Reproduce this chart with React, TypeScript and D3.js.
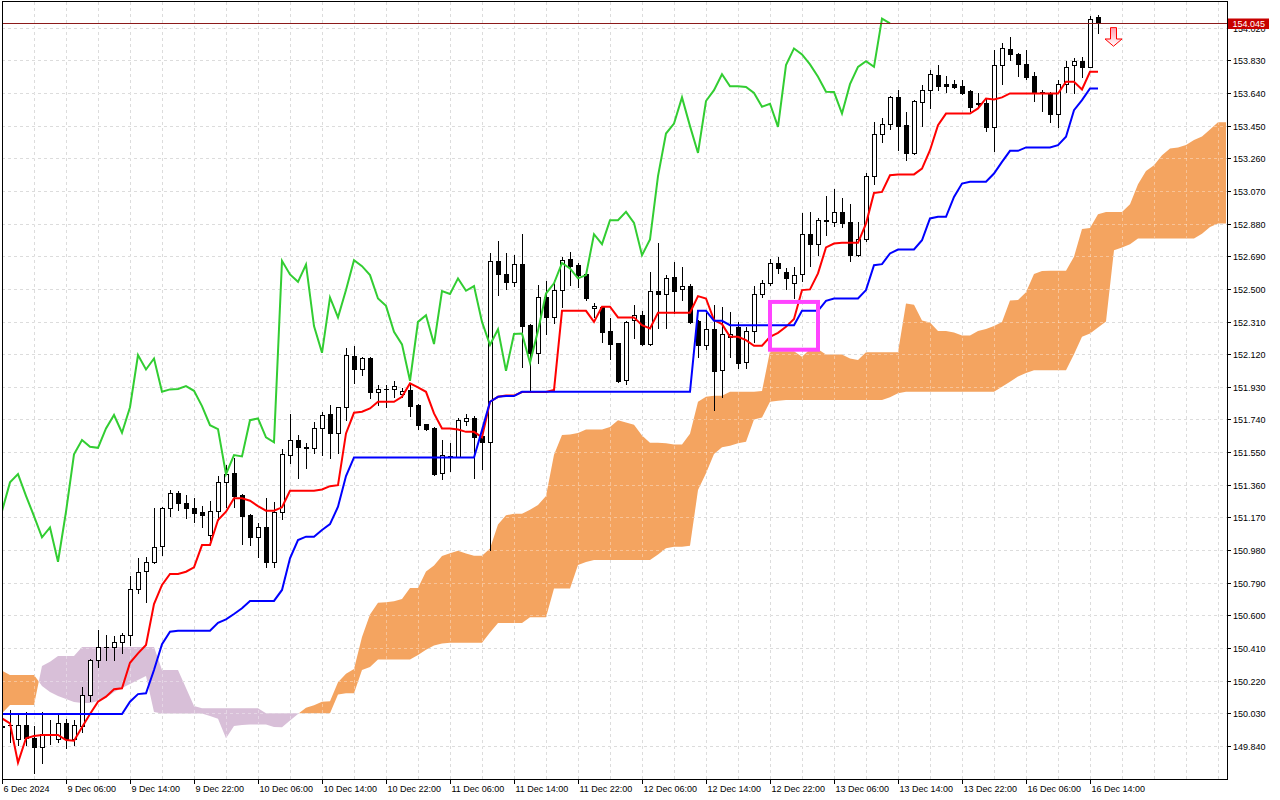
import { useEffect, useRef } from "react";
import * as d3 from "d3";

const WIDTH = 1280;
const HEIGHT = 800;

// H1 candles, 6 Dec 22:00 -> 16 Dec 15:00 (138 bars)
const opens = [
  149.950, 149.960, 149.879, 149.962, 149.885, 149.832, 149.904, 149.879, 149.972, 149.879,
  149.956, 150.137, 150.340, 150.414, 150.414, 150.447, 150.486, 150.752, 150.859, 150.912,
  151.005, 151.223, 151.310, 151.255, 151.223, 151.203, 151.067, 151.207, 151.374, 151.426,
  151.300, 151.184, 151.054, 151.112, 150.912, 151.203, 151.533, 151.620, 151.578, 151.572,
  151.688, 151.771, 151.663, 151.811, 152.109, 152.031, 152.095, 151.901, 151.915, 151.915,
  151.891, 151.911, 151.824, 151.713, 151.688, 151.426, 151.523, 151.523, 151.732, 151.746,
  151.643, 151.607, 152.661, 152.586, 152.541, 152.642, 152.289, 152.124, 152.450, 152.334,
  152.493, 152.671, 152.638, 152.584, 152.386, 152.396, 152.254, 152.183, 151.969, 152.318,
  152.347, 152.179, 152.487, 152.473, 152.567, 152.497, 152.518, 152.312, 152.175, 152.265,
  152.027, 152.221, 152.279, 152.072, 152.256, 152.473, 152.532, 152.651, 152.599, 152.537,
  152.586, 152.818, 152.760, 152.896, 152.890, 152.948, 152.890, 152.696, 152.788, 153.156,
  153.404, 153.462, 153.614, 153.453, 153.291, 153.588, 153.656, 153.743, 153.691, 153.691,
  153.679, 153.650, 153.579, 153.579, 153.443, 153.802, 153.893, 153.864, 153.806, 153.738,
  153.647, 153.640, 153.520, 153.691, 153.802, 153.825, 153.792, 154.081,
];
const highs = [
  149.975, 150.049, 150.020, 150.040, 149.956, 150.040, 149.991, 150.020, 149.995, 149.991,
  150.181, 150.345, 150.515, 150.486, 150.480, 150.496, 150.829, 150.932, 150.938, 151.223,
  151.232, 151.329, 151.325, 151.300, 151.281, 151.236, 151.265, 151.411, 151.475, 151.514,
  151.305, 151.190, 151.135, 151.281, 151.261, 151.566, 151.770, 151.649, 151.601, 151.727,
  151.785, 151.824, 151.815, 152.157, 152.167, 152.105, 152.105, 151.940, 151.940, 151.965,
  151.921, 151.950, 151.830, 151.716, 151.698, 151.620, 151.604, 151.746, 151.771, 151.761,
  151.698, 152.706, 152.778, 152.706, 152.696, 152.822, 152.295, 152.522, 152.547, 152.551,
  152.686, 152.715, 152.648, 152.590, 152.415, 152.400, 152.328, 152.186, 152.312, 152.405,
  152.372, 152.599, 152.764, 152.580, 152.657, 152.625, 152.528, 152.320, 152.357, 152.405,
  152.396, 152.366, 152.308, 152.279, 152.516, 152.551, 152.671, 152.683, 152.619, 152.628,
  152.942, 152.948, 152.915, 153.040, 153.079, 153.026, 152.993, 152.890, 153.175, 153.472,
  153.497, 153.620, 153.656, 153.530, 153.598, 153.685, 153.773, 153.802, 153.738, 153.714,
  153.718, 153.655, 153.640, 153.608, 153.889, 153.928, 153.963, 153.873, 153.889, 153.763,
  153.660, 153.646, 153.714, 153.827, 153.841, 153.850, 154.087, 154.093,
];
const lows = [
  149.930, 149.865, 149.846, 149.846, 149.681, 149.743, 149.852, 149.865, 149.827, 149.846,
  149.923, 150.104, 150.301, 150.340, 150.340, 150.379, 150.428, 150.728, 150.679, 150.906,
  150.951, 151.178, 151.213, 151.165, 151.145, 151.116, 151.038, 151.155, 151.232, 151.232,
  151.015, 151.009, 150.938, 150.880, 150.883, 151.162, 151.485, 151.397, 151.455, 151.543,
  151.533, 151.514, 151.543, 151.736, 151.953, 151.998, 151.863, 151.824, 151.814, 151.872,
  151.872, 151.760, 151.682, 151.680, 151.417, 151.393, 151.441, 151.519, 151.707, 151.402,
  151.450, 150.980, 152.464, 152.502, 152.516, 152.047, 151.901, 152.066, 152.237, 152.299,
  152.396, 152.522, 152.512, 152.434, 152.337, 152.192, 152.090, 151.959, 151.946, 152.212,
  152.173, 152.173, 152.270, 152.270, 152.361, 152.434, 152.300, 152.105, 152.150, 151.795,
  151.869, 152.105, 152.037, 152.037, 152.192, 152.454, 152.522, 152.593, 152.497, 152.444,
  152.547, 152.632, 152.696, 152.813, 152.865, 152.861, 152.663, 152.690, 152.780, 153.113,
  153.355, 153.433, 153.307, 153.249, 153.285, 153.447, 153.550, 153.656, 153.647, 153.671,
  153.633, 153.536, 153.550, 153.420, 153.303, 153.695, 153.831, 153.739, 153.724, 153.594,
  153.536, 153.472, 153.439, 153.647, 153.640, 153.734, 153.790, 153.986,
];
const closes = [
  149.956, 149.965, 149.962, 149.885, 149.832, 149.910, 149.906, 149.972, 149.879, 149.962,
  150.137, 150.340, 150.414, 150.418, 150.447, 150.486, 150.752, 150.854, 150.912, 150.999,
  151.223, 151.310, 151.252, 151.223, 151.197, 151.184, 151.207, 151.374, 151.422, 151.296,
  151.178, 151.054, 151.112, 150.912, 151.203, 151.537, 151.620, 151.581, 151.575, 151.688,
  151.766, 151.663, 151.811, 152.115, 152.031, 152.095, 151.901, 151.915, 151.917, 151.934,
  151.907, 151.818, 151.707, 151.684, 151.422, 151.533, 151.525, 151.736, 151.746, 151.636,
  151.607, 152.663, 152.584, 152.541, 152.642, 152.283, 152.128, 152.450, 152.334, 152.493,
  152.667, 152.632, 152.580, 152.444, 152.401, 152.250, 152.177, 151.965, 152.308, 152.347,
  152.179, 152.487, 152.470, 152.561, 152.489, 152.516, 152.308, 152.173, 152.265, 152.023,
  152.237, 152.240, 152.070, 152.256, 152.473, 152.532, 152.651, 152.619, 152.561, 152.580,
  152.818, 152.760, 152.900, 152.900, 152.948, 152.884, 152.696, 152.788, 153.156, 153.404,
  153.462, 153.614, 153.447, 153.291, 153.593, 153.656, 153.749, 153.679, 153.679, 153.675,
  153.640, 153.560, 153.577, 153.443, 153.802, 153.899, 153.864, 153.806, 153.734, 153.647,
  153.645, 153.520, 153.691, 153.792, 153.825, 153.792, 154.073, 154.045,
];

// Ichimoku lines
const tenkan = [
  150.001, 149.972, 149.743, 149.885, 149.898, 149.904, 149.904, 149.904, 149.875, 149.871,
  149.949, 150.026, 150.098, 150.127, 150.170, 150.176, 150.324, 150.379, 150.428, 150.666,
  150.777, 150.841, 150.841, 150.854, 150.880, 151.009, 151.009, 151.155, 151.203, 151.281,
  151.281, 151.267, 151.236, 151.209, 151.209, 151.229, 151.325, 151.325, 151.325, 151.325,
  151.333, 151.352, 151.358, 151.659, 151.779, 151.785, 151.804, 151.843, 151.843, 151.843,
  151.872, 151.950, 151.927, 151.901, 151.775, 151.688, 151.688, 151.682, 151.668, 151.668,
  151.636, 151.843, 151.872, 151.879, 151.879, 151.900, 151.900, 151.900, 151.900, 151.911,
  152.372, 152.372, 152.372, 152.372, 152.308, 152.396, 152.396, 152.334, 152.334, 152.334,
  152.289, 152.270, 152.361, 152.361, 152.361, 152.361, 152.361, 152.458, 152.444, 152.318,
  152.295, 152.221, 152.221, 152.202, 152.169, 152.169, 152.221, 152.244, 152.279, 152.325,
  152.493, 152.497, 152.590, 152.741, 152.764, 152.768, 152.768, 152.768, 152.880, 153.058,
  153.064, 153.161, 153.166, 153.166, 153.166, 153.200, 153.307, 153.453, 153.520, 153.520,
  153.520, 153.520, 153.550, 153.608, 153.602, 153.614, 153.637, 153.637, 153.637, 153.637,
  153.637, 153.637, 153.637, 153.705, 153.705, 153.660, 153.763, 153.763,
];
const kijun = [
  150.026, 150.026, 150.026, 150.026, 150.026, 150.026, 150.026, 150.026, 150.026, 150.026,
  150.026, 150.026, 150.026, 150.026, 150.026, 150.026, 150.098, 150.142, 150.147, 150.282,
  150.433, 150.505, 150.511, 150.511, 150.511, 150.511, 150.511, 150.557, 150.577, 150.608,
  150.641, 150.684, 150.684, 150.684, 150.684, 150.748, 150.932, 151.038, 151.058, 151.058,
  151.097, 151.131, 151.232, 151.411, 151.519, 151.519, 151.519, 151.519, 151.519, 151.519,
  151.519, 151.519, 151.519, 151.519, 151.519, 151.519, 151.519, 151.519, 151.519, 151.519,
  151.678, 151.843, 151.872, 151.876, 151.876, 151.901, 151.901, 151.901, 151.901, 151.901,
  151.901, 151.901, 151.901, 151.901, 151.901, 151.901, 151.901, 151.901, 151.901, 151.901,
  151.901, 151.901, 151.901, 151.901, 151.901, 151.901, 151.901, 152.372, 152.372, 152.314,
  152.314, 152.289, 152.289, 152.289, 152.289, 152.289, 152.289, 152.289, 152.289, 152.289,
  152.372, 152.372, 152.372, 152.430, 152.444, 152.444, 152.444, 152.444, 152.493, 152.638,
  152.644, 152.706, 152.729, 152.729, 152.729, 152.783, 152.910, 152.919, 152.919, 153.035,
  153.113, 153.123, 153.123, 153.123, 153.171, 153.239, 153.303, 153.303, 153.323, 153.323,
  153.323, 153.323, 153.336, 153.385, 153.540, 153.598, 153.666, 153.666,
];
// Cloud, 154 bars (26 past the last candle)
const spanA = [
  150.278, 150.253, 150.253, 150.253, 150.253, 150.189, 150.154, 150.131, 150.113, 150.096,
  150.090, 150.090, 150.102, 150.119, 150.154, 150.177, 150.201, 150.224, 150.247, 150.038,
  150.029, 150.029, 150.029, 150.029, 150.029, 150.029, 150.014, 149.999, 149.885, 149.956,
  149.962, 149.965, 149.965, 149.965, 149.951, 149.949, 149.988, 150.026, 150.062, 150.077,
  150.098, 150.101, 150.211, 150.261, 150.288, 150.474, 150.605, 150.673, 150.676, 150.683,
  150.696, 150.760, 150.760, 150.856, 150.890, 150.945, 150.961, 150.976, 150.960, 150.947,
  150.947, 150.989, 151.129, 151.182, 151.192, 151.192, 151.215, 151.242, 151.295, 151.535,
  151.649, 151.652, 151.662, 151.681, 151.681, 151.681, 151.696, 151.735, 151.723, 151.710,
  151.647, 151.604, 151.604, 151.601, 151.594, 151.594, 151.657, 151.843, 151.872, 151.878,
  151.878, 151.901, 151.901, 151.901, 151.901, 151.906, 152.137, 152.137, 152.137, 152.137,
  152.105, 152.149, 152.149, 152.118, 152.118, 152.118, 152.095, 152.086, 152.131, 152.131,
  152.131, 152.131, 152.131, 152.415, 152.408, 152.316, 152.305, 152.255, 152.255, 152.246,
  152.229, 152.229, 152.255, 152.267, 152.284, 152.307, 152.433, 152.435, 152.481, 152.586,
  152.604, 152.606, 152.606, 152.606, 152.687, 152.848, 152.854, 152.934, 152.948, 152.948,
  152.948, 152.992, 153.109, 153.186, 153.220, 153.278, 153.317, 153.322, 153.337, 153.366,
  153.387, 153.427, 153.470, 153.470,
];
const spanB = [
  150.030, 150.079, 150.079, 150.079, 150.079, 150.305, 150.330, 150.364, 150.364, 150.364,
  150.416, 150.416, 150.416, 150.416, 150.416, 150.416, 150.416, 150.416, 150.416, 150.416,
  150.282, 150.282, 150.282, 150.177, 150.073, 150.059, 150.059, 150.059, 150.059, 150.059,
  150.059, 150.059, 150.059, 150.030, 150.030, 150.030, 150.030, 150.030, 150.030, 150.030,
  150.030, 150.030, 150.140, 150.147, 150.147, 150.282, 150.300, 150.344, 150.344, 150.344,
  150.344, 150.344, 150.370, 150.400, 150.425, 150.437, 150.441, 150.441, 150.441, 150.441,
  150.441, 150.500, 150.555, 150.555, 150.555, 150.555, 150.589, 150.589, 150.589, 150.757,
  150.757, 150.757, 150.893, 150.910, 150.922, 150.922, 150.922, 150.922, 150.922, 150.922,
  150.922, 150.922, 150.955, 150.990, 151.000, 151.000, 151.005, 151.329, 151.427, 151.539,
  151.578, 151.587, 151.601, 151.610, 151.740, 151.752, 151.843, 151.849, 151.853, 151.853,
  151.853, 151.853, 151.853, 151.853, 151.853, 151.853, 151.853, 151.853, 151.853, 151.853,
  151.853, 151.870, 151.892, 151.901, 151.901, 151.901, 151.901, 151.901, 151.901, 151.901,
  151.901, 151.901, 151.901, 151.901, 151.901, 151.930, 151.960, 151.990, 152.010, 152.027,
  152.027, 152.027, 152.027, 152.027, 152.120, 152.221, 152.240, 152.275, 152.310, 152.725,
  152.740, 152.760, 152.793, 152.793, 152.793, 152.793, 152.793, 152.793, 152.793, 152.793,
  152.820, 152.860, 152.880, 152.880,
];
const CHIKOU_SHIFT = 26;

const priceLabels = [
  "149.840", "150.030", "150.220", "150.410", "150.600", "150.790", "150.980", "151.170",
  "151.360", "151.550", "151.740", "151.930", "152.120", "152.310", "152.500", "152.690",
  "152.880", "153.070", "153.260", "153.450", "153.640", "153.830", "154.020",
];
const timeLabels = [
  "6 Dec 2024", "9 Dec 06:00", "9 Dec 14:00", "9 Dec 22:00", "10 Dec 06:00", "10 Dec 14:00",
  "10 Dec 22:00", "11 Dec 06:00", "11 Dec 14:00", "11 Dec 22:00", "12 Dec 06:00", "12 Dec 14:00",
  "12 Dec 22:00", "13 Dec 06:00", "13 Dec 14:00", "13 Dec 22:00", "16 Dec 06:00", "16 Dec 14:00",
];
const timeLabelBars = [0, 8, 16, 24, 32, 40, 48, 56, 64, 72, 80, 88, 96, 104, 112, 120, 128, 136];

const lastPrice = 154.045;
// sell arrow (bar, top price, head price, tip price)
const arrowBar = 139;
const arrowPrices = [154.02, 153.954, 153.912];
// highlight box (bars, prices)
const boxBars = [96, 102];
const boxPrices = [152.146, 152.424];

const FONT = "'Liberation Sans', Arial, sans-serif";

interface CloudPt {
  i: number;
  a: number;
  b: number;
}

export default function App() {
  const svgRef = useRef<SVGSVGElement>(null);

  useEffect(() => {
    if (!svgRef.current) return;
    const svg = d3.select(svgRef.current);
    svg.selectAll("*").remove();

    const left = 2;
    const right = 1227;
    const top = 2;
    const bottom = 779;

    const x = d3.scaleLinear().domain([0, 153]).range([2, 1226]);
    const y = d3.scaleLinear().domain([149.84, 153.83]).range([746, 60.3]);

    svg.append("rect").attr("width", WIDTH).attr("height", HEIGHT).attr("fill", "#ffffff");

    const defs = svg.append("defs");
    defs
      .append("clipPath")
      .attr("id", "plot-clip")
      .append("rect")
      .attr("x", left + 1)
      .attr("y", top)
      .attr("width", right - left - 1)
      .attr("height", bottom - top);

    const grad = defs
      .append("linearGradient")
      .attr("id", "arrow-fill")
      .attr("x1", 0)
      .attr("y1", 0)
      .attr("x2", 0)
      .attr("y2", 1);
    grad.append("stop").attr("offset", "0%").attr("stop-color", "#ff9fb0");
    grad.append("stop").attr("offset", "100%").attr("stop-color", "#ffffff");

    const plot = svg.append("g").attr("clip-path", "url(#plot-clip)");

    // Grille
    const gridBars = d3.range(0, 154, 4);
    const drawGrid = (color: string, opacity: number) => {
      const g = plot
        .append("g")
        .attr("stroke", color)
        .attr("stroke-opacity", opacity)
        .attr("stroke-dasharray", "3,3")
        .attr("shape-rendering", "crispEdges");
      priceLabels.forEach((p) => {
        const yy = Math.round(y(+p)) + 0.5;
        g.append("line").attr("x1", left).attr("x2", right).attr("y1", yy).attr("y2", yy);
      });
      gridBars.forEach((b) => {
        const xx = Math.round(x(b)) + 0.5;
        g.append("line").attr("x1", xx).attr("x2", xx).attr("y1", top).attr("y2", bottom);
      });
    };
    drawGrid("#c9c9c9", 1);

    // Nuage (avec points de croisement)
    const cloudPts: CloudPt[] = [];
    spanA.forEach((a, i) => {
      const b = spanB[i];
      if (i > 0) {
        const d0 = spanA[i - 1] - spanB[i - 1];
        const d1 = a - b;
        if (d0 * d1 < 0) {
          const t = d0 / (d0 - d1);
          const v = spanA[i - 1] + (a - spanA[i - 1]) * t;
          cloudPts.push({ i: i - 1 + t, a: v, b: v });
        }
      }
      cloudPts.push({ i, a, b });
    });

    const bullArea = d3
      .area<CloudPt>()
      .x((d) => x(d.i))
      .y0((d) => y(Math.min(d.a, d.b)))
      .y1((d) => y(d.a));
    const bearArea = d3
      .area<CloudPt>()
      .x((d) => x(d.i))
      .y0((d) => y(Math.min(d.a, d.b)))
      .y1((d) => y(d.b));

    plot.append("path").datum(cloudPts).attr("d", bullArea).attr("fill", "#f4a460");
    plot.append("path").datum(cloudPts).attr("d", bearArea).attr("fill", "#d8bfd8");

    drawGrid("#ffffff", 0.35);

    // Bougies
    const cg = plot.append("g").attr("shape-rendering", "crispEdges");
    opens.forEach((o, i) => {
      const c = closes[i];
      const cx = Math.round(x(i));
      cg.append("line")
        .attr("x1", cx + 0.5)
        .attr("x2", cx + 0.5)
        .attr("y1", Math.round(y(highs[i])))
        .attr("y2", Math.round(y(lows[i])) + 1)
        .attr("stroke", "#000000");
      const yTop = Math.round(y(Math.max(o, c)));
      const yBot = Math.round(y(Math.min(o, c)));
      if (yBot - yTop < 1) {
        cg.append("line")
          .attr("x1", cx - 2)
          .attr("x2", cx + 3)
          .attr("y1", yTop + 0.5)
          .attr("y2", yTop + 0.5)
          .attr("stroke", "#000000");
      } else {
        cg.append("rect")
          .attr("x", cx - 1.5)
          .attr("y", yTop + 0.5)
          .attr("width", 4)
          .attr("height", yBot - yTop)
          .attr("fill", c >= o ? "#ffffff" : "#000000")
          .attr("stroke", "#000000");
      }
    });

    // Lignes Ichimoku
    const line = d3
      .line<number>()
      .x((_, i) => x(i))
      .y((d) => y(d));
    plot.append("path").attr("d", line(tenkan)).attr("fill", "none").attr("stroke", "#ff0000").attr("stroke-width", 2);
    plot.append("path").attr("d", line(kijun)).attr("fill", "none").attr("stroke", "#0000ff").attr("stroke-width", 2);
    plot
      .append("path")
      .attr("d", line(closes.slice(CHIKOU_SHIFT)))
      .attr("fill", "none")
      .attr("stroke", "#32cd32")
      .attr("stroke-width", 2);

    // Ligne du dernier prix
    const yLast = Math.round(y(lastPrice)) + 0.5;
    plot
      .append("line")
      .attr("x1", left)
      .attr("x2", right)
      .attr("y1", yLast)
      .attr("y2", yLast)
      .attr("stroke", "#8b1a1a")
      .attr("shape-rendering", "crispEdges");

    // Cadre magenta
    plot
      .append("rect")
      .attr("x", x(boxBars[0]))
      .attr("y", y(boxPrices[1]))
      .attr("width", x(boxBars[1]) - x(boxBars[0]))
      .attr("height", y(boxPrices[0]) - y(boxPrices[1]))
      .attr("fill", "none")
      .attr("stroke", "#ff44ff")
      .attr("stroke-width", 4);

    // Flèche de vente
    const ax = x(arrowBar) - 0.5;
    const [yA, yH, yT] = arrowPrices.map((p) => y(p));
    plot
      .append("path")
      .attr(
        "d",
        `M${ax - 3},${yA} L${ax + 3},${yA} L${ax + 3},${yH} L${ax + 8.5},${yH} L${ax},${yT} L${ax - 8.5},${yH} L${ax - 3},${yH} Z`
      )
      .attr("fill", "url(#arrow-fill)")
      .attr("stroke", "#ff0000")
      .attr("stroke-width", 1);

    // Cadre
    svg
      .append("rect")
      .attr("x", left + 0.5)
      .attr("y", top - 0.5)
      .attr("width", right - left)
      .attr("height", bottom - top + 1)
      .attr("fill", "none")
      .attr("stroke", "#000000")
      .attr("shape-rendering", "crispEdges");

    // Axe des prix
    const axisY = svg.append("g").style("font-family", FONT).style("font-size", "9px");
    priceLabels.forEach((p) => {
      const yy = Math.round(y(+p)) + 0.5;
      axisY
        .append("line")
        .attr("x1", right)
        .attr("x2", right + 4)
        .attr("y1", yy)
        .attr("y2", yy)
        .attr("stroke", "#000000")
        .attr("shape-rendering", "crispEdges");
      axisY
        .append("text")
        .attr("x", right + 6)
        .attr("y", yy + 3.5)
        .attr("fill", "#000000")
        .text(p);
    });

    // Étiquette du dernier prix
    axisY
      .append("rect")
      .attr("x", right + 1)
      .attr("y", yLast - 5)
      .attr("width", 41)
      .attr("height", 10.5)
      .attr("fill", "#c80000");
    axisY
      .append("text")
      .attr("x", right + 5.5)
      .attr("y", yLast + 3.5)
      .attr("fill", "#ffffff")
      .text(lastPrice.toFixed(3));

    // Axe du temps
    const axisX = svg.append("g").style("font-family", FONT).style("font-size", "9px");
    timeLabels.forEach((label, j) => {
      const xx = Math.round(x(timeLabelBars[j])) + 0.5;
      axisX
        .append("line")
        .attr("x1", xx)
        .attr("x2", xx)
        .attr("y1", bottom)
        .attr("y2", bottom + 5)
        .attr("stroke", "#000000")
        .attr("shape-rendering", "crispEdges");
      axisX
        .append("text")
        .attr("x", xx + 1)
        .attr("y", bottom + 12.5)
        .attr("fill", "#000000")
        .text(label);
    });
  }, []);

  return (
    <svg
      ref={svgRef}
      width={WIDTH}
      height={HEIGHT}
      style={{ position: "absolute", left: 0, top: 0, display: "block" }}
    />
  );
}
